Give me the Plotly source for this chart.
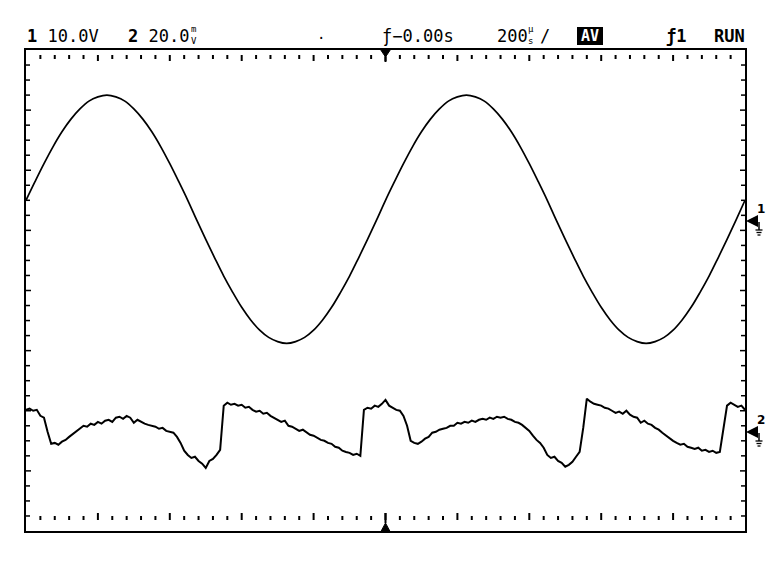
import plotly.graph_objects as go

# ---------------- data ----------------
# Channel 1: sine, sampled every 25 us from -1000 us to +1000 us (volts)
CH1_T_US = list(range(-1000, 1001, 25))
_pos = [3.3, 6.4, 9.4, 12.2, 14.7, 16.8, 18.5, 19.8, 20.5, 20.8,
        20.5, 19.8, 18.5, 16.8, 14.7, 12.2, 9.4, 6.4, 3.3, 0.0]
_neg = [-3.2, -6.3, -9.3, -12.0, -14.5, -16.6, -18.3, -19.5, -20.2, -20.5,
        -20.2, -19.5, -18.3, -16.6, -14.5, -12.0, -9.3, -6.3, -3.2, 0.0]
CH1_V = _pos + _neg + _pos + _neg + [3.3]

# Channel 2: noisy waveform, sampled every 10 us (millivolts)
CH2_T_US = list(range(-1000, 1001, 10))
CH2_MV = [
    7.3, 7.7, 7.0, 7.3, 5.3, 4.7, 0.0, -4.0, -3.7, -4.3,
    -3.3, -2.7, -1.7, -0.7, 0.3, 1.0, 2.0, 1.7, 2.7, 2.3,
    3.3, 2.7, 3.7, 4.0, 3.3, 4.7, 5.0, 4.3, 5.3, 4.7,
    3.0, 4.0, 3.3, 2.7, 2.3, 2.0, 1.7, 1.0, 1.3, 0.3,
    0.0, -0.3, -1.7, -3.7, -6.3, -7.7, -8.7, -8.3, -9.7, -10.6,
    -12.0, -9.7, -9.0, -7.7, -6.0, 8.7, 9.7, 9.0, 9.3, 8.7,
    9.0, 8.0, 8.3, 7.3, 6.7, 7.0, 6.0, 6.3, 5.3, 4.7,
    4.0, 3.3, 3.7, 2.0, 1.7, 1.0, 0.3, 0.7, -0.3, -1.0,
    -1.3, -2.0, -2.7, -3.0, -3.7, -4.0, -5.0, -5.3, -6.3, -6.7,
    -7.0, -7.7, -7.3, -8.0, 7.3, 8.0, 7.7, 8.7, 8.3, 9.3,
    10.6, 8.7, 8.0, 7.3, 7.0, 5.3, 2.0, -3.0, -3.7, -4.0,
    -3.3, -2.3, -1.7, -0.3, 0.0, 0.7, 1.0, 1.3, 2.0, 2.0,
    3.0, 2.7, 3.3, 3.0, 3.7, 3.3, 4.0, 4.3, 4.0, 4.7,
    4.3, 5.0, 4.7, 5.0, 4.3, 4.0, 3.3, 3.0, 2.3, 1.3,
    0.3, -1.3, -2.7, -3.7, -5.3, -7.7, -8.7, -8.3, -9.7, -10.3,
    -11.6, -11.0, -10.0, -8.3, -6.7, 1.3, 11.0, 10.0, 9.3, 9.0,
    8.7, 8.0, 7.7, 7.0, 6.3, 6.7, 6.0, 7.0, 5.7, 5.0,
    4.7, 3.0, 3.7, 2.7, 2.3, 1.3, 0.7, -0.3, -1.3, -2.0,
    -3.0, -3.7, -4.3, -4.0, -5.0, -5.3, -5.7, -5.3, -6.3, -6.0,
    -6.7, -6.3, -7.0, -6.7, 1.3, 8.7, 9.7, 9.0, 8.3, 8.7,
    7.3,
]

# instrument settings
CH1_V_PER_DIV = 10.0
CH2_MV_PER_DIV = 20.0
CH1_OFFSET_DIV = 1.17
CH2_OFFSET_DIV = -2.35
TIME_PER_DIV_US = 200
H_DIVS = 10
V_DIVS = 8

# ---------------- figure ----------------
BODY = 8                       # default page margin of the html body
W, H = 780 - BODY, 568 - BODY
FX0, FY0, FX1, FY1 = 26, 50, 745, 531   # frame in page pixels
PW, PH = FX1 - FX0, FY1 - FY0
L, T = FX0 - BODY, FY0 - BODY
R, B = W - L - PW, H - T - PH


def px(x):
    return (x - FX0) / PW


def py(y):
    return (FY1 - y) / PH


fig = go.Figure()
fig.add_trace(go.Scatter(
    x=CH1_T_US, y=[v / CH1_V_PER_DIV + CH1_OFFSET_DIV for v in CH1_V],
    mode="lines", line=dict(color="black", width=1.7, shape="spline"),
    hoverinfo="skip"))
fig.add_trace(go.Scatter(
    x=CH2_T_US, y=[v / CH2_MV_PER_DIV + CH2_OFFSET_DIV for v in CH2_MV],
    mode="lines", line=dict(color="black", width=2),
    hoverinfo="skip"))

half_t = TIME_PER_DIV_US * H_DIVS / 2
shapes = []
LINE = dict(color="black", width=2)
# top / bottom tick rows (1/5 division)
step_t = TIME_PER_DIV_US / 5
n = int(2 * half_t / step_t)
for i in range(1, n):
    t = -half_t + i * step_t
    major = (i % 5 == 0)
    shapes.append(dict(type="line", xref="x", yref="paper", x0=t, x1=t,
                       y0=py(55), y1=py(61 if major else 59), line=LINE))
    shapes.append(dict(type="line", xref="x", yref="paper", x0=t, x1=t,
                       y0=py(520), y1=py(513 if major else 516), line=LINE))
# left / right ticks (1/4 division)
for j in range(1, V_DIVS * 4):
    yv = -V_DIVS / 2 + j * 0.25
    ln = 5 if j % 4 == 0 else 4
    shapes.append(dict(type="line", xref="paper", yref="y", x0=0, x1=ln / PW,
                       y0=yv, y1=yv, line=dict(color="black", width=1.5)))
    shapes.append(dict(type="line", xref="paper", yref="y", x0=1 - ln / PW, x1=1,
                       y0=yv, y1=yv, line=dict(color="black", width=1.5)))
# trigger position markers at center
shapes.append(dict(type="path", xref="x", yref="paper",
                   path=f"M -15 {py(49)} L 15 {py(49)} L 0 {py(57)} Z",
                   fillcolor="black", line=dict(color="black", width=1)))
shapes.append(dict(type="line", xref="x", yref="paper", x0=0, x1=0,
                   y0=py(57), y1=py(62), line=LINE))
shapes.append(dict(type="path", xref="x", yref="paper",
                   path=f"M -12 {py(531)} L 12 {py(531)} L 0 {py(523)} Z",
                   fillcolor="black", line=dict(color="black", width=1)))
shapes.append(dict(type="line", xref="x", yref="paper", x0=0, x1=0,
                   y0=py(523), y1=py(513), line=LINE))
# inverted "AV" box
shapes.append(dict(type="rect", xref="paper", yref="paper",
                   x0=px(577), x1=px(603), y0=py(45), y1=py(27),
                   fillcolor="black", line=dict(width=0)))

MONO = "DejaVu Sans Mono"
ann = []


def txt(x, y, s, size=17, anchor="left", color="black", family=MONO):
    ann.append(dict(x=px(x), y=py(y), xref="paper", yref="paper", text=s,
                    showarrow=False, xanchor=anchor, yanchor="middle",
                    font=dict(family=family, size=size, color=color)))


txt(25, 36, "<b>1</b> 10.0V")
txt(126, 36, "<b>2</b> 20.0")
txt(189, 35, "m<br>V", size=9)
txt(315, 38, "·", size=14)
txt(380, 36, "ƒ−0.00s")
txt(495, 36, "200")
txt(526, 35, "µ<br>s", size=9)
txt(538, 36, "/")
txt(590, 36, "<b>AV</b>", size=15, anchor="center", color="white")
txt(664, 36, "<b>ƒ1</b>")
txt(747, 36, "<b>RUN</b>", anchor="right")

# ground reference markers on the right
for ych, label in ((221, "1"), (432, "2")):
    ann.append(dict(x=px(746), y=py(ych), xref="paper", yref="paper", text="",
                    showarrow=True, ax=13, ay=0, arrowhead=2, arrowsize=1.2,
                    arrowwidth=2, arrowcolor="black"))
    txt(755, ych - 12, "<b>" + label + "</b>", size=12, family="DejaVu Sans")
    gx = 759
    shapes.append(dict(type="line", xref="paper", yref="paper",
                       x0=px(gx), x1=px(gx), y0=py(ych + 1), y1=py(ych + 9),
                       line=dict(color="black", width=1.5)))
    for k, hw in enumerate((3.5, 2.5, 1.5)):
        yy = ych + 9 + 2.5 * k
        shapes.append(dict(type="line", xref="paper", yref="paper",
                           x0=px(gx - hw), x1=px(gx + hw), y0=py(yy), y1=py(yy),
                           line=dict(color="black", width=1.3)))

fig.update_layout(
    width=W, height=H,
    margin=dict(l=L, r=R, t=T, b=B),
    paper_bgcolor="white", plot_bgcolor="white",
    showlegend=False,
    shapes=shapes, annotations=ann,
    xaxis=dict(range=[-half_t, half_t], showgrid=False, zeroline=False,
               showticklabels=False, ticks="", showline=True, mirror=True,
               linecolor="black", linewidth=2),
    yaxis=dict(range=[-V_DIVS / 2, V_DIVS / 2], showgrid=False, zeroline=False,
               showticklabels=False, ticks="", showline=True, mirror=True,
               linecolor="black", linewidth=2),
)

fig.write_html("out.html")
